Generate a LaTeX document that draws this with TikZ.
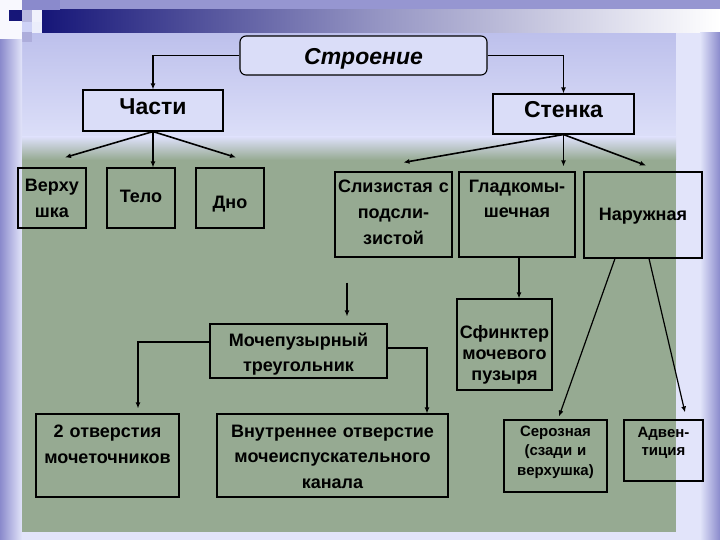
\documentclass[tikz,border=0pt]{standalone}
\usepackage{fontspec}
\setmainfont{Liberation Sans}
\usetikzlibrary{arrows.meta}

\definecolor{slidelav}{RGB}{206,210,246}
\definecolor{slidepurple}{RGB}{138,138,204}
\definecolor{slidenavy}{RGB}{22,22,120}
\definecolor{bandgrey}{RGB}{150,150,196}
\definecolor{panelgreen}{RGB}{150,170,146}

\begin{document}
\begin{tikzpicture}[
    x=1pt, y=-1pt,
    block/.style={rectangle, draw, line width=1.1pt, align=center, inner sep=0pt, font=\bfseries\fontsize{18}{26}\selectfont},
    topblock/.style={block, fill=slidelav!75!white},
    arrow/.style={-{Latex[length=6pt, width=5pt]}, line width=1.6pt},
    thinarrow/.style={arrow, line width=1.2pt}
]
\useasboundingbox (0,0) rectangle (720,540);

% slide background
\fill[slidelav] (0,0) rectangle (720,540);
\shade[top color=slidelav!75!slidepurple, bottom color=slidelav!70!white] (0,33) rectangle (720,140);
\fill[slidepurple!90!white] (0,0) rectangle (720,10);
\shade[left color=slidenavy, right color=white, middle color=bandgrey] (42,10) rectangle (720,33);
\fill[white!85!slidelav] (0,0) rectangle (22,40);
\fill[slidenavy] (9,10) rectangle (22,21);
\fill[slidepurple] (22,0) rectangle (60,10);
\fill[slidepurple!60!white] (22,10) rectangle (32,22);
\fill[white!70!slidelav] (32,10) rectangle (42,22);
\fill[slidepurple!70!white] (22,32) rectangle (32,42);
\fill[white!60!slidelav] (32,22) rectangle (42,33);
\shade[left color=slidepurple, right color=slidelav!60!white] (0,40) rectangle (22,540);
\fill[slidelav!60!white] (676,33) rectangle (720,540);
\shade[left color=slidelav!60!white, right color=slidepurple] (700,33) rectangle (720,540);
\fill[slidelav!60!white] (22,532) rectangle (700,540);
\shade[top color=slidelav!70!white, bottom color=panelgreen] (22,137) rectangle (676,160);
\fill[panelgreen] (22,160) rectangle (676,532);

% boxes
\node[topblock, rounded corners=6pt, minimum width=247pt, text width=240pt, text height=29pt, text depth=10pt,
      font=\bfseries\itshape\fontsize{23}{27}\selectfont] (str) at (363.5,55.5) {Строение};
\node[topblock, minimum width=140pt, text width=136pt, text height=25pt, text depth=16pt,
      font=\bfseries\fontsize{23}{27}\selectfont] (chasti) at (153,110.5) {Части};
\node[topblock, minimum width=141pt, text width=137pt, text height=24pt, text depth=16pt,
      font=\bfseries\fontsize{23}{27}\selectfont] (stenka) at (563.5,114) {Стенка};

\node[block, minimum width=68pt, text width=66pt, text height=24pt, text depth=36pt] (verh) at (52,198) {Верху\\шка};
\node[block, minimum width=68pt, text width=66pt, text height=35pt, text depth=25pt] (telo) at (141,198) {Тело};
\node[block, minimum width=68pt, text width=66pt, text height=40pt, text depth=20pt] (dno) at (230,198) {Дно};
\node[block, minimum width=117pt, text width=115pt, text height=21pt, text depth=64pt] (slz) at (393.5,214.5) {Слизистая с\\подсли-\\зистой};
\node[block, minimum width=116pt, text width=114pt, text height=21pt, text depth=64pt,
      font=\bfseries\fontsize{18}{25}\selectfont] (glad) at (517,214.5) {Гладкомы-\\шечная};
\node[block, minimum width=118pt, text width=116pt, text height=49pt, text depth=37pt] (nar) at (643,215) {Наружная};

\node[block, minimum width=177pt, text width=175pt, text height=22pt, text depth=32pt,
      font=\bfseries\fontsize{18}{25}\selectfont] (mpt) at (298.5,351) {Мочепузырный\\треугольник};
\node[block, minimum width=95pt, text width=93pt, text height=39pt, text depth=52pt,
      font=\bfseries\fontsize{18}{21}\selectfont] (sfn) at (504.5,344.5) {Сфинктер\\мочевого\\пузыря};

\node[block, minimum width=143pt, text width=141pt, text height=23pt, text depth=60pt] (otv) at (107.5,455.5) {2 отверстия\\мочеточников};
\node[block, minimum width=231pt, text width=229pt, text height=23pt, text depth=60pt,
      font=\bfseries\fontsize{18}{25.5}\selectfont] (vnt) at (332.5,455.5) {Внутреннее отверстие\\мочеиспускательного\\канала};
\node[block, minimum width=103pt, text width=101pt, text height=16pt, text depth=56pt,
      font=\bfseries\fontsize{15}{19.5}\selectfont] (ser) at (555.5,456) {Серозная\\(сзади и\\верхушка)};
\node[block, minimum width=79pt, text width=77pt, text height=17pt, text depth=44pt,
      font=\bfseries\fontsize{15}{18.5}\selectfont] (adv) at (663.5,450.5) {Адвен-\\тиция};

\coordinate (slzdrop) at ([xshift=-46.5pt]slz.south);
\coordinate (otvin) at ([xshift=30.5pt]otv.north);
\coordinate (vntin) at ([xshift=94.5pt]vnt.north);
\coordinate (gladout) at ([xshift=2pt]glad.south);

% connectors
\draw[arrow] (str.west) -| (chasti.north);
\draw[arrow] (str.east) -| (stenka.north);
\draw[arrow] (chasti.south) -- ([xshift=13pt,yshift=10pt]verh.north);
\draw[arrow] (chasti.south) -- (chasti.south |- telo.north);
\draw[arrow] (chasti.south) -- ([xshift=6pt,yshift=10pt]dno.north);
\draw[arrow] (stenka.south) -- ([xshift=10pt,yshift=9pt]slz.north);
\draw[arrow, shorten >=5pt] (stenka.south) -- (stenka.south |- glad.north);
\draw[arrow] (stenka.south) -- ([xshift=3pt,yshift=6pt]nar.north);
\draw[arrow, shorten <=25pt, shorten >=7pt] (slzdrop) -- (slzdrop |- mpt.north);
\draw[arrow, shorten >=5pt] ([yshift=9pt]mpt.west) -| (otvin);
\draw[thinarrow] ([yshift=3pt]mpt.east) -| (vntin);
\draw[arrow] (gladout) -- (gladout |- sfn.north);
\draw[thinarrow] ([xshift=-28pt]nar.south) -- ([xshift=3.5pt,yshift=3pt]ser.north);
\draw[thinarrow] ([xshift=6pt]nar.south) -- ([xshift=21.5pt,yshift=7pt]adv.north);
\end{tikzpicture}
\end{document}
